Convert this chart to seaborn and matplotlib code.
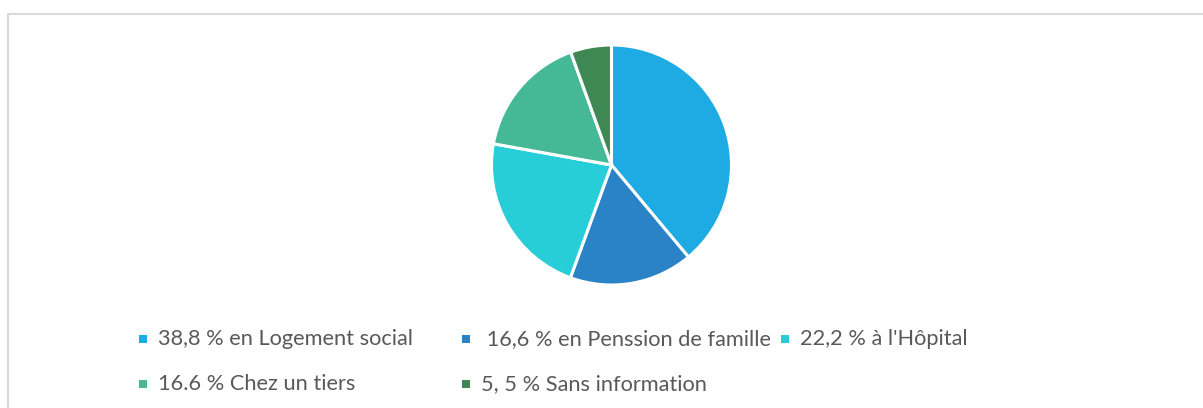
import matplotlib
matplotlib.use("Agg")
import matplotlib.pyplot as plt
import seaborn as sns
from matplotlib.patches import Rectangle
from matplotlib.lines import Line2D

sns.set_theme(style="white")
plt.rcParams["font.family"] = ["Lato", "DejaVu Sans"]

# data
labels = ["38,8 % en Logement social", " 16,6 % en Penssion de famille",
          "22,2 % à l'Hôpital", "16.6 % Chez un tiers", "5, 5 % Sans information"]
values = [38.8, 16.6, 22.2, 16.6, 5.5]
colors = ["#1EABE3", "#2983C6", "#27CED7", "#45B896", "#3E8853"]

W, H = 1203, 408
fig = plt.figure(figsize=(W / 100, H / 100), dpi=100)
fig.patch.set_facecolor("white")

# pie centred at (611, 165) px, radius ~120 px
cx, cy, r = 611.5, 165, 120
ax = fig.add_axes([(cx - r) / W, 1 - (cy + r) / H, 2 * r / W, 2 * r / H])
ax.pie(values, colors=colors, startangle=90, counterclock=False,
       wedgeprops=dict(edgecolor="white", linewidth=2.2))
ax.set_xlim(-1, 1)
ax.set_ylim(-1, 1)
ax.set_aspect("equal")
ax.axis("off")

# chart frame (top and left edges visible)
fig.add_artist(Line2D([8 / W, 1], [1 - 14 / H, 1 - 14 / H], color="#D9D9D9", lw=1.5))
fig.add_artist(Line2D([8 / W, 8 / W], [0, 1 - 14 / H], color="#D9D9D9", lw=1.5))

# legend entries: marker centre x, row baseline y (px)
legend_pos = [(143, 345), (466, 345), (785, 345), (143, 390), (466, 390)]
for (mx, base), lab, col in zip(legend_pos, labels, colors):
    s = 8
    my = base - 6.5
    fig.add_artist(Rectangle(((mx - s / 2) / W, 1 - (my + s / 2) / H), s / W, s / H,
                             transform=fig.transFigure, color=col, lw=0))
    fig.text((mx + 15) / W, 1 - base / H, lab, fontsize=15.7, color="#595959",
             va="baseline", ha="left")

fig.savefig("out.png", dpi=100, facecolor="white")
